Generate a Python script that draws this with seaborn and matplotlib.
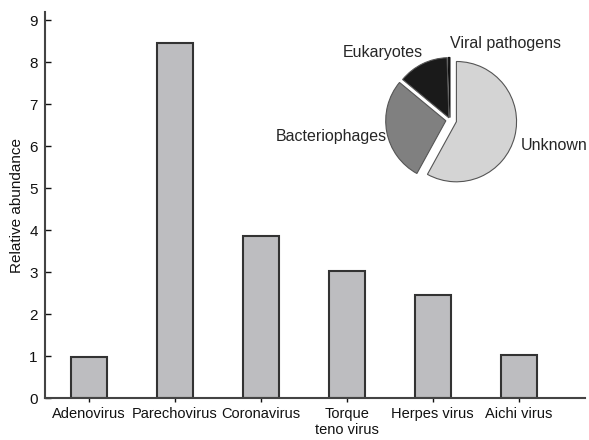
import pandas as pd
import seaborn as sns
import matplotlib.pyplot as plt

# Bar chart data
viruses = ['Adenovirus', 'Parechovirus', 'Coronavirus', 'Torque\nteno virus', 'Herpes virus', 'Aichi virus']
abundance = [0.97, 8.46, 3.86, 3.03, 2.45, 1.03]

# Pie chart data (counterclockwise from the top)
pie_labels = ['Viral pathogens', 'Eukaryotes', 'Bacteriophages', 'Unknown']
pie_shares = [0.5, 13.5, 28.0, 58.0]

sns.set_style('ticks')
plt.rcParams['font.family'] = ['Liberation Sans', 'DejaVu Sans']

df = pd.DataFrame({'Virus': viruses, 'Abundance': abundance})

fig = plt.figure(figsize=(5.89, 4.40), dpi=100)
ax = fig.add_axes([0.076, 0.095, 0.917, 0.878])

sns.barplot(data=df, x='Virus', y='Abundance', color='#bdbdc0', width=0.42,
            edgecolor='#333333', linewidth=1.5, saturation=1, ax=ax)
ax.set_ylim(0, 9.2)
ax.set_xlim(-0.51, 5.77)
ax.set_yticks(range(10))
ax.set_xlabel('')
ax.set_ylabel('Relative abundance', fontsize=11, color='#111111')
ax.tick_params(axis='y', direction='in', length=4, labelsize=11, colors='#111111', width=1, pad=5)
ax.tick_params(axis='x', direction='out', length=3, labelsize=10.5, colors='#111111', width=1)
for side in ['top', 'right']:
    ax.spines[side].set_visible(False)
for side in ['left', 'bottom']:
    ax.spines[side].set_color('#444444')
    ax.spines[side].set_linewidth(1.5)

# Inset pie chart
cx, cy, half = 450, 120, 80
pax = fig.add_axes([(cx - half) / 589, 1 - (cy + half) / 440, 2 * half / 589, 2 * half / 440])
wedges, _ = pax.pie(pie_shares, startangle=90, counterclock=True,
                    colors=['#111111', '#1a1a1a', '#808080', '#d4d4d4'],
                    explode=[0.04, 0.04, 0.07, 0.11],
                    wedgeprops=dict(edgecolor='#555555', linewidth=0.8))
wedges[0].set_edgecolor('#111111')
pax.set_xlim(-1.33, 1.33)
pax.set_ylim(-1.33, 1.33)
pax.set_aspect('equal')
pax.axis('off')

pax.text(0.0, 1.27, pie_labels[0], ha='left', va='center', fontsize=11.5)
pax.text(-1.12, 1.13, pie_labels[1], ha='center', va='center', fontsize=11.5)
pax.text(-1.05, -0.28, pie_labels[2], ha='right', va='center', fontsize=11.5)
pax.text(1.17, -0.42, pie_labels[3], ha='left', va='center', fontsize=11.5)

fig.savefig('out.png', dpi=100)
